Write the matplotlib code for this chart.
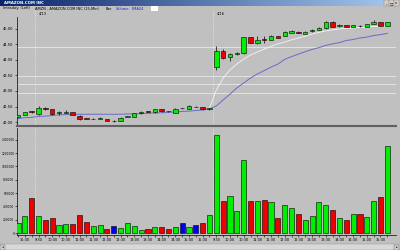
"""
AMZN 15-min intraday chart (4/12 - 4/16): candles + EMA lines, volume below.
"""
import numpy as np
import matplotlib
matplotlib.use("Agg")
import matplotlib.pyplot as plt
from matplotlib.patches import Rectangle

matplotlib.rcParams['font.family'] = 'DejaVu Sans'

W, H = 400, 250

# OHLC per 15-min bar
opens = [42.17, 42.22, 42.34, 42.25, 42.45, 42.41, 42.28, 42.30, 42.32, 42.20,
         42.12, 42.10, 42.11, 42.10, 42.03, 42.03, 42.17, 42.17, 42.28, 42.34,
         42.31, 42.41, 42.35, 42.30, 42.44, 42.43, 42.49, 42.47, 42.42,
         43.76, 44.29, 44.09, 44.19, 44.22, 44.73, 44.55, 44.67, 44.66, 44.76,
         44.79, 44.88, 44.90, 44.85, 44.92, 44.97, 45.02, 45.23, 45.09, 45.12,
         45.06, 45.11, 45.07, 45.17, 45.22, 45.11]
closes = [42.21, 42.32, 42.32, 42.44, 42.43, 42.25, 42.32, 42.32, 42.23, 42.10,
          42.11, 42.11, 42.12, 42.04, 42.03, 42.14, 42.18, 42.28, 42.33, 42.33,
          42.41, 42.36, 42.34, 42.43, 42.44, 42.52, 42.49, 42.41, 42.44,
          44.30, 44.07, 44.19, 44.21, 44.73, 44.55, 44.66, 44.65, 44.78, 44.72,
          44.90, 44.95, 44.87, 44.90, 44.98, 45.03, 45.23, 45.07, 45.14, 45.06,
          45.12, 45.10, 45.15, 45.24, 45.11, 45.22]
highs = [42.23, 42.33, 42.37, 42.52, 42.48, 42.42, 42.36, 42.38, 42.33, 42.21,
         42.13, 42.13, 42.16, 42.11, 42.05, 42.15, 42.20, 42.29, 42.34, 42.35,
         42.42, 42.43, 42.36, 42.44, 42.46, 42.54, 42.51, 42.48, 42.46,
         44.46, 44.34, 44.21, 44.26, 44.75, 44.75, 44.77, 44.78, 44.80, 44.78,
         44.92, 44.97, 44.92, 44.92, 45.00, 45.05, 45.25, 45.25, 45.15, 45.13,
         45.13, 45.14, 45.16, 45.30, 45.23, 45.24]
lows = [42.15, 42.21, 42.29, 42.23, 42.40, 42.23, 42.24, 42.28, 42.22, 42.08,
        42.09, 42.09, 42.10, 42.03, 41.99, 42.02, 42.15, 42.16, 42.27, 42.31,
        42.30, 42.31, 42.32, 42.29, 42.42, 42.42, 42.47, 42.40, 42.40,
        43.68, 44.02, 43.98, 44.16, 44.20, 44.54, 44.53, 44.56, 44.65, 44.70,
        44.78, 44.87, 44.86, 44.84, 44.91, 44.96, 45.01, 45.06, 45.08, 45.05,
        45.05, 45.07, 45.06, 45.16, 45.10, 45.10]

# EMA24 (blue) and the short white average (visible only from the 4/16 gap)
ema24 = [42.11, 42.14, 42.15, 42.18, 42.19, 42.21, 42.23, 42.24, 42.24, 42.25,
         42.25, 42.25, 42.25, 42.25, 42.25, 42.25, 42.26, 42.26, 42.27, 42.28,
         42.29, 42.30, 42.31, 42.32, 42.34, 42.35, 42.37, 42.39, 42.42,
         42.52, 42.71, 42.90, 43.10, 43.26, 43.42, 43.55, 43.66, 43.77, 43.87,
         44.02, 44.11, 44.19, 44.27, 44.34, 44.40, 44.47, 44.52, 44.56, 44.63,
         44.66, 44.71, 44.74, 44.79, 44.82, 44.86]
fast_start = 28
fast_ma = [42.45, 43.03, 43.42, 43.68, 43.87, 44.03, 44.16, 44.26, 44.35, 44.44,
           44.52, 44.58, 44.65, 44.71, 44.77, 44.84, 44.89, 44.94, 44.97, 45.00,
           45.02, 45.03, 45.05, 45.06, 45.08, 45.08, 45.10]

volume = [145000, 260000, 530000, 260000, 195000, 225000, 115000, 135000, 130000, 265000,
          160000, 105000, 115000, 60000, 100000, 75000, 145000, 105000, 50000, 65000,
          85000, 85000, 55000, 85000, 145000, 90000, 115000, 155000, 275000,
          1480000, 477000, 563000, 330000, 1093000, 477000, 476000, 500000, 466000, 232000,
          427000, 376000, 286000, 200000, 255000, 461000, 421000, 346000, 225000, 195000,
          281000, 290000, 245000, 476000, 546000, 1308000]
vol_dir = ['g', 'g', 'r', 'g', 'r', 'r', 'g', 'g', 'r', 'r',
           'r', 'g', 'g', 'r', 'b', 'g', 'g', 'g', 'g', 'r',
           'g', 'r', 'r', 'g', 'b', 'g', 'b', 'r', 'g',
           'g', 'r', 'g', 'g', 'g', 'r', 'g', 'r', 'g', 'r',
           'g', 'g', 'r', 'g', 'g', 'g', 'g', 'r', 'g', 'r',
           'g', 'r', 'g', 'g', 'r', 'g']

time_labels = ["15:30",
               "9:30", "10:00", "10:30", "11:00", "11:30", "12:00", "12:30",
               "13:00", "13:30", "14:00", "14:30", "15:00", "15:30",
               "9:30", "10:00", "10:30", "11:00", "11:30", "12:00", "12:30",
               "13:00", "13:30", "14:00", "14:30", "15:00", "15:30"]
price_ticks = [42.00, 42.50, 43.00, 43.50, 44.00, 44.50, 45.00]
vol_ticks = [0, 200000, 400000, 600000, 800000, 1000000, 1200000, 1400000]
level_lines = [44.42, 43.48, 43.23, 42.94]
day_breaks = [2.5, 28.5]
day_labels = ["4/13", "4/16"]

COLORS = {'g': '#00ee00', 'r': '#ee0000', 'b': '#0000ee'}
BG = '#c0c0c0'


def fy(py):
    return 1 - py / H


fig = plt.figure(figsize=(W / 100, H / 100), dpi=100, facecolor=BG)

# window chrome: title bar
grad = np.linspace(0, 1, 256).reshape(1, -1)
tb = fig.add_axes([0, fy(6), 1, 6 / H])
tb.imshow(grad, aspect='auto', extent=[0, 1, 0, 1],
          cmap=matplotlib.colors.LinearSegmentedColormap.from_list('tb', ['#0a246a', '#a6caf0']))
tb.axis('off')
fig.text(4 / W, fy(3), "AMAZON.COM INC", fontsize=2.8, color='white', weight='bold', va='center')
for k, s in enumerate(["_", "□", "x"]):
    fig.patches.append(Rectangle(((384 + 5 * k) / W, fy(5.5)), 4.5 / W, 5 / H,
                                 transform=fig.transFigure, fc='#d4d0c8', ec='#808080', lw=0.3))
    fig.text((386.2 + 5 * k) / W, fy(3), s, fontsize=2.5, ha='center', va='center')

# info line
info = [(3, "Intraday: (Left)", 'black'), (35, "AMZN - AMAZON.COM INC (15-Min)", 'black'),
        (106, "Bar", 'black'), (116, "Volume", '#2020c0'), (132, "EMA24", '#2020c0')]
for px, s, c in info:
    fig.text(px / W, fy(8.5), s, fontsize=2.6, color=c, va='center')
fig.patches.append(Rectangle((151 / W, fy(10.5)), 7 / W, 4 / H, transform=fig.transFigure,
                             fc='white', ec='none'))

# price panel
ax = fig.add_axes([17 / W, fy(126), 379 / W, 109 / H], facecolor=BG)
x = np.arange(len(opens))
o, c = np.array(opens), np.array(closes)
ax.vlines(x, lows, highs, color='black', lw=0.5, zorder=3)
body_col = [COLORS['g'] if cc > oo else COLORS['r'] for oo, cc in zip(o, c)]
ax.bar(x, np.maximum(np.abs(c - o), 0.006), bottom=np.minimum(o, c), width=0.65,
       color=body_col, edgecolor='black', linewidth=0.4, zorder=4)
ax.plot(x, ema24, color='#6a6ac8', lw=0.7, zorder=2)
ax.plot(x[fast_start:], fast_ma, color='#f4f4f4', lw=0.6, zorder=2)
for lv in level_lines:
    ax.axhline(lv, color='#e8e8e8', lw=0.6, zorder=1)
for xb, lab in zip(day_breaks, day_labels):
    ax.axvline(xb, ymax=1.064, color='#eeeeee', lw=0.6, ls=':', clip_on=False, zorder=1)
    ax.text(xb + 0.6, 1.03, lab, transform=ax.get_xaxis_transform(), fontsize=2.6, va='center')
ax.set_xlim(-0.146, 55.27)
ax.set_ylim(41.871, 45.387)
ax.set_yticks(price_ticks)
ax.set_yticklabels([f"{p:.2f}" for p in price_ticks])
ax.set_xticks([])
ax.tick_params(axis='y', labelsize=2.6, length=1.5, width=0.4, pad=1)
for s in ['top', 'right']:
    ax.spines[s].set_visible(False)
ax.spines['left'].set_linewidth(0.5)
ax.spines['bottom'].set_color('#606060')
ax.spines['bottom'].set_linewidth(1.5)

# volume panel
av = fig.add_axes([17 / W, fy(235), 379 / W, 107 / H], facecolor=BG)
av.bar(x, volume, width=0.75, color=[COLORS[d] for d in vol_dir],
       edgecolor='black', linewidth=0.4, zorder=3)
for xb in day_breaks:
    av.axvline(xb, color='#eeeeee', lw=0.6, ls=':', zorder=1)
av.set_xlim(-0.146, 55.27)
av.set_ylim(-30000, 1578900)
av.set_yticks(vol_ticks)
av.set_yticklabels([str(v) for v in vol_ticks])
av.set_xticks(np.arange(1, 54, 2))
av.set_xticklabels(time_labels)
av.set_xticks(x, minor=True)
av.tick_params(axis='x', labelsize=2.5, length=1.5, width=0.4, pad=1)
av.tick_params(axis='y', labelsize=2.1, length=1.2, width=0.4, pad=0.6)
av.tick_params(axis='x', which='minor', length=1.2, width=0.4)
for s in ['top', 'right']:
    av.spines[s].set_visible(False)
av.spines['left'].set_linewidth(0.5)
av.spines['bottom'].set_linewidth(0.5)

# scrollbar
fig.patches.append(Rectangle((0, 0), 1, 6 / H, transform=fig.transFigure,
                             fc='#d8d8d8', ec='#909090', lw=0.3))
for px, s in [(0, "◂"), (394, "▸")]:
    fig.patches.append(Rectangle((px / W, 0.5 / H), 5 / W, 5 / H, transform=fig.transFigure,
                                 fc='#d4d0c8', ec='#606060', lw=0.3))
    fig.text((px + 2.5) / W, fy(247), s, fontsize=2.5, ha='center', va='center')

plt.savefig("out.png", dpi=100, facecolor=BG)
plt.close()
print("Saved: out.png")
